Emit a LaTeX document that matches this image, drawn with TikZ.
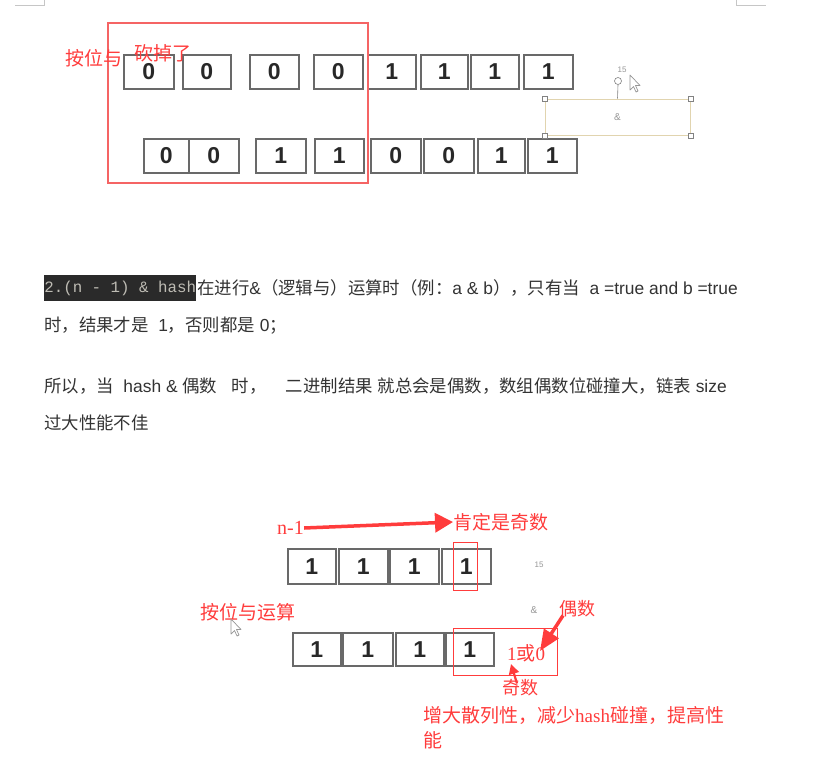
\documentclass[tikz,border=0pt]{standalone}
\usepackage{fontspec}
\setmainfont{Liberation Sans}
\newfontfamily\cjk{Noto Sans CJK SC}
\newfontfamily\serifl{Liberation Serif}
\newfontfamily\monol{Liberation Mono}
\usetikzlibrary{arrows.meta,calc}
\definecolor{annot}{RGB}{255,60,60}
\definecolor{frame}{RGB}{245,100,100}
\definecolor{bodytxt}{RGB}{51,51,51}
\definecolor{bitline}{RGB}{105,105,105}
\definecolor{bittxt}{RGB}{40,40,40}
\definecolor{codebg}{RGB}{42,42,42}
\definecolor{codetxt}{RGB}{190,188,180}
\definecolor{selbox}{RGB}{225,212,175}
\definecolor{handle}{RGB}{130,130,130}
\definecolor{ghost}{RGB}{150,150,150}
\newcommand\bitbox[5]{\node[bit,anchor=north west,minimum width=#3pt,minimum height=#4pt] (#1) at (#2) {#5};}
\newcommand\cursorat[1]{\draw[cursorline, shift={(#1)}] (0,0) -- (0,15) -- (3.5,11.5) -- (6,17) -- (8,16) -- (5.5,10.5) -- (10,10.5) -- cycle;}
\begin{document}
\begin{tikzpicture}[x=1pt,y=-1pt,
  bit/.style={draw=bitline, line width=1.7pt, inner sep=0pt, text=bittxt,
    font=\fontsize{23}{23}\selectfont\bfseries},
  body/.style={anchor=base west, inner sep=0pt, text=bodytxt,
    font=\fontsize{17.4}{17.4}\selectfont},
  note/.style={inner sep=0pt, text=annot, font=\cjk\fontsize{19}{19}\selectfont},
  redframe/.style={draw=frame, line width=1.2pt},
  handlebox/.style={draw=handle, fill=white, line width=0.6pt, minimum size=5pt, inner sep=0pt},
  cursorline/.style={draw=ghost, fill=white, line width=0.7pt, line join=round},
  bigarrow/.style={draw=annot, line width=3.5pt, -{Triangle[length=18pt,width=19pt]}},
]
\fill[white] (0,0) rectangle (835,784);
\useasboundingbox (0,0) rectangle (835,784);

% page corner marks
\draw[gray!45, line width=0.8pt] (15,5) -- (44,5) -- (44,0);
\draw[gray!45, line width=0.8pt] (736,0) -- (736,5) -- (766,5);

% ---------- top figure ----------
\bitbox{a1}{123,54}{50}{34}{0}
\bitbox{a2}{182,54}{48}{34}{0}
\bitbox{a3}{249,54}{49}{34}{0}
\bitbox{a4}{313,54}{49}{34}{0}
\bitbox{a5}{367,54}{48}{34}{1}
\bitbox{a6}{420,54}{47}{34}{1}
\bitbox{a7}{470,54}{48}{34}{1}
\bitbox{a8}{523,54}{49}{34}{1}

\bitbox{b1}{143,138}{45}{34}{0}
\bitbox{b2}{188,138}{50}{34}{0}
\bitbox{b3}{255,138}{50}{34}{1}
\bitbox{b4}{314,138}{49}{34}{1}
\bitbox{b5}{370,138}{50}{34}{0}
\bitbox{b6}{423,138}{50}{34}{0}
\bitbox{b7}{477,138}{47}{34}{1}
\bitbox{b8}{527,138}{49}{34}{1}

\draw[redframe] (108,23) rectangle (368,183);
\node[note, anchor=west] (anwei) at (65,58) {按位与};
\node[note, anchor=west] (kandiao) at (134,53) {砍掉了};

% selected text box with handles
\node[draw=selbox, line width=1pt, minimum width=145pt, minimum height=36pt, inner sep=0pt,
      text=ghost, font=\fontsize{10}{10}\selectfont] (sel) at (617.5,117) {\&};
\foreach \a in {north west,north east,south west,south east}
  \node[handlebox] at (sel.\a) {};
\node[draw=handle, fill=white, circle, line width=0.6pt, minimum size=7pt, inner sep=0pt] (rot) at (618,81) {};
\draw[handle, line width=0.6pt] (rot.south) -- (sel.north);
\node[text=ghost, inner sep=0pt, font=\fontsize{8}{8}\selectfont] (t15a) at (622,70) {15};
\cursorat{630,75}

% ---------- text paragraphs ----------
\node[anchor=west, fill=codebg, text=codetxt, inner sep=0pt, minimum width=152pt, minimum height=26pt,
      font=\monol\fontsize{15.8}{16}\selectfont] (code) at (44,288) {2.(n - 1) \& hash};
\node[body] (l1) at (197,294) {{\cjk 在进行}\&{\cjk （逻辑与）运算时（例：}a \& b{\cjk ），只有当}\ \ a =true and b =true};
\node[body] (l2) at (44,331) {{\cjk 时，结果才是}\ \ 1{\cjk ，否则都是} 0{\cjk ；}};
\node[body] (l3) at (44,392) {{\cjk 所以，当}\ \ hash \& {\cjk 偶数}\ \ \ {\cjk 时，}\ \ \ \ {\cjk 二进制结果} {\cjk 就总会是偶数，数组偶数位碰撞大，链表} size};
\node[body] (l4) at (44,429) {{\cjk 过大性能不佳}};

% ---------- bottom figure ----------
\bitbox{c1}{287,548}{48}{35}{1}
\bitbox{c2}{338,548}{49}{35}{1}
\bitbox{c3}{389,548}{49}{35}{1}
\bitbox{c4}{441,548}{49}{35}{1}

\bitbox{d1}{292,632}{48}{33}{1}
\bitbox{d2}{342,632}{50}{33}{1}
\bitbox{d3}{395,632}{48}{33}{1}
\bitbox{d4}{445,632}{48}{33}{1}

\draw[draw=annot, line width=0.9pt] (453,542) rectangle (477,590);
\node[draw=annot, line width=0.9pt, minimum width=104pt, minimum height=47pt, inner sep=0pt] (hbox) at (505,651.5) {};

\node[text=ghost, inner sep=0pt, font=\fontsize{8}{8}\selectfont] (t15b) at (539,565) {15};
\node[text=ghost, inner sep=0pt, font=\fontsize{10}{10}\selectfont] (amp) at (534,610) {\&};

\node[note, anchor=west, font=\serifl\fontsize{20}{20}\selectfont] (nm1) at (277,528) {n-1};
\node[note, anchor=west] (kd) at (453,522) {肯定是奇数};
\draw[bigarrow] (nm1.east) -- (kd.west);

\node[note, anchor=west] (anwei2) at (200,612) {按位与运算};
\cursorat{231,619}

\node[note, anchor=west] (huo) at (507,653) {{\serifl 1}或{\serifl 0}};
\node[note, anchor=west, font=\cjk\fontsize{18}{18}\selectfont] (ou) at (559,609) {偶数};
\node[note, anchor=west, font=\cjk\fontsize{18}{18}\selectfont] (ji) at (502,688) {奇数};
\coordinate (ouTip) at (540,651);
\coordinate (jiTip) at (511,664);
\draw[draw=annot, line width=3.5pt, -{Triangle[length=21pt,width=17pt]}] ($(ou.south west)+(4,-2)$) -- (ouTip);
\draw[draw=annot, line width=2.2pt, -{Triangle[length=10pt,width=10pt]}] ($(ji.north west)+(15,4)$) -- (jiTip);

\node[note, anchor=north west, align=left] (gain) at (423,706)
  {增大散列性，减少{\serifl hash}碰撞，提高性\\[6pt]能};
\end{tikzpicture}
\end{document}
